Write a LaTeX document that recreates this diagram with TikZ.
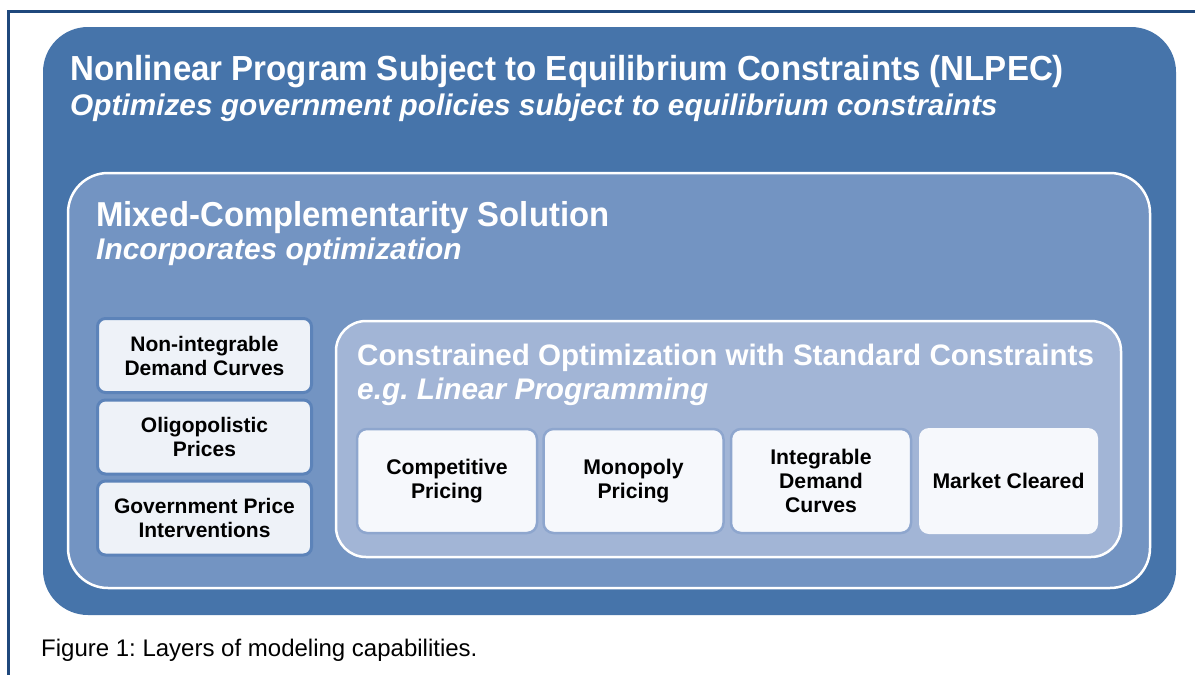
\documentclass[tikz,border=0pt]{standalone}
\usepackage{fontspec}
\setmainfont{Liberation Sans}
\newfontfamily\headfont[FakeStretch=0.95]{Liberation Sans}
\frenchspacing
\definecolor{framenavy}{RGB}{31,72,124}
\definecolor{layerone}{RGB}{70,116,170}
\definecolor{layertwo}{RGB}{115,148,194}
\definecolor{layerthree}{RGB}{162,181,214}
\definecolor{sidefill}{RGB}{238,242,248}
\definecolor{sideedge}{RGB}{92,131,185}
\definecolor{cellfill}{RGB}{246,248,252}
\definecolor{celledge}{RGB}{142,166,206}
\tikzset{
  layerbox/.style={rectangle, inner sep=0pt, draw=white, line width=2.5pt},
  sidebox/.style={rectangle, inner sep=0pt, rounded corners=8pt, fill=sidefill,
    draw=sideedge, line width=3pt, minimum width=214pt, minimum height=74pt,
    align=center, font=\fontsize{21}{24}\selectfont\bfseries, text=black},
  cellbox/.style={rectangle, inner sep=0pt, rounded corners=10pt, fill=cellfill,
    draw=celledge, line width=2.5pt, minimum width=180pt, minimum height=104pt,
    align=center, font=\fontsize{21.2}{24}\selectfont\bfseries, text=black},
  headline/.style={anchor=base west, inner sep=0pt, text=white},
}
\begin{document}
\begin{tikzpicture}[x=1pt,y=-1pt]
  \useasboundingbox (0,0) rectangle (1195,675);
  \fill[white] (0,0) rectangle (1195,675);

  % page frame
  \coordinate (frameBL) at (8.5,675);
  \coordinate (frameTR) at (1195,11.5);
  \draw[framenavy, line width=3.5pt] (frameBL) |- (frameTR);

  % outermost layer: NLPEC
  \node[rectangle, inner sep=0pt, rounded corners=45pt, fill=layerone,
        minimum width=1133pt, minimum height=588pt] (nlpec) at (609.5,321) {};
  \node[headline, font=\headfont\fontsize{34.8}{40}\selectfont\bfseries] (nlpecT) at (70,80.5)
    {Nonlinear Program Subject to Equilibrium Constraints (NLPEC)};
  \node[headline, font=\fontsize{29.8}{35}\selectfont\bfseries\itshape] (nlpecS) at (70,115)
    {Optimizes government policies subject to equilibrium constraints};

  % middle layer: mixed complementarity
  \node[layerbox, rounded corners=40pt, fill=layertwo,
        minimum width=1082pt, minimum height=415pt] (mcp) at (609,380.5) {};
  \node[headline, font=\headfont\fontsize{34.6}{40}\selectfont\bfseries] (mcpT) at (96,226)
    {Mixed-Complementarity Solution};
  \node[headline, font=\fontsize{29.9}{35}\selectfont\bfseries\itshape] (mcpS) at (96,259.5)
    {Incorporates optimization};

  % inner layer: constrained optimization
  \node[layerbox, rounded corners=30pt, fill=layerthree,
        minimum width=785pt, minimum height=236pt] (lp) at (728.5,439) {};
  \node[headline, font=\fontsize{29.6}{35}\selectfont\bfseries] (lpT) at (357,365.5)
    {Constrained Optimization with Standard Constraints};
  \node[headline, font=\fontsize{29.8}{35}\selectfont\bfseries\itshape] (lpS) at (357,399)
    {e.g. Linear Programming};

  % features handled only by the mixed-complementarity layer
  \node[sidebox] (nonint) at (204.5,355.5) {Non-integrable\\Demand Curves};
  \node[sidebox] (oligo)  at (204.5,437)   {Oligopolistic\\Prices};
  \node[sidebox] (govt)   at (204.5,518)   {Government Price\\Interventions};

  % features of standard constrained optimization
  \node[cellbox] (comp)   at (447,481)    {Competitive\\Pricing};
  \node[cellbox] (mono)   at (633.5,481)  {Monopoly\\Pricing};
  \node[cellbox] (integ)  at (821,481)    {Integrable\\Demand\\Curves};
  \node[cellbox, draw=none, minimum width=179pt, minimum height=106pt] (market) at (1008.5,481) {Market Cleared};

  % caption
  \node[anchor=base west, inner sep=0pt, font=\fontsize{24}{28}\selectfont, text=black]
    (caption) at (41,656) {Figure 1: Layers of modeling capabilities.};
\end{tikzpicture}
\end{document}
